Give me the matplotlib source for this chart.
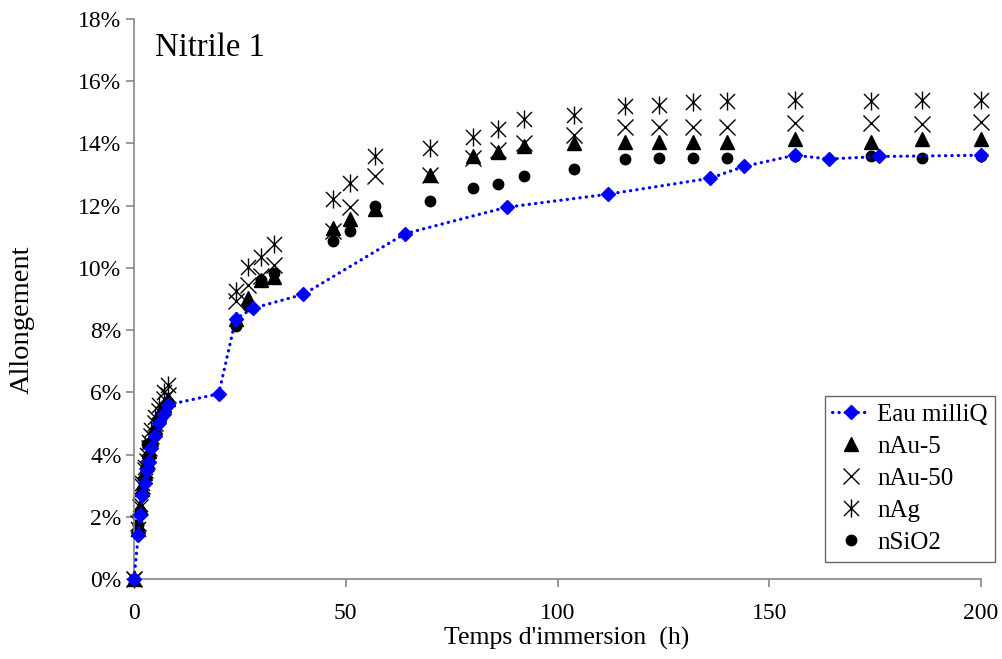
import numpy as np
import matplotlib.pyplot as plt
from matplotlib.path import Path
from matplotlib.ticker import FuncFormatter

plt.rcParams['font.family'] = ['Liberation Serif', 'DejaVu Serif']

# Eau milliQ (reference)
t_eau = [0, 1, 1.5, 2, 2.5, 3, 3.5, 4, 5, 6, 7, 8,
         20, 24, 28, 40, 64, 88, 112, 136, 144, 156, 164, 176, 200]
eau = [0, 1.4, 2.05, 2.7, 3.1, 3.5, 3.75, 4.2, 4.6, 5.0, 5.3, 5.6,
       5.95, 8.35, 8.7, 9.15, 11.1, 11.95, 12.37, 12.88, 13.26, 13.62, 13.5, 13.58, 13.62]

# nanoparticle suspensions share the same sampling times
t_np = [0, 1, 1.5, 2, 2.5, 3, 3.5, 4, 5, 6, 7, 8,
        24, 27, 30, 33, 47, 51, 57, 70, 80, 86, 92, 104,
        116, 124, 132, 140, 156, 174, 186, 200]
nau5 = [0, 1.7, 2.3, 2.9, 3.4, 3.8, 4.1, 4.5, 4.9, 5.3, 5.6, 5.8,
        8.35, 9.03, 9.61, 9.72, 11.28, 11.57, 11.89, 12.97, 13.58, 13.72, 13.92, 14.01,
        14.06, 14.06, 14.06, 14.06, 14.14, 14.06, 14.14, 14.14]
nau50 = [0, 1.8, 2.3, 3.0, 3.5, 3.8, 4.2, 4.6, 5.0, 5.4, 5.8, 5.9,
         8.94, 9.45, 9.75, 10.1, 11.17, 11.97, 12.94, 12.99, 13.53, 13.79, 14.01, 14.28,
         14.54, 14.54, 14.54, 14.54, 14.67, 14.65, 14.62, 14.7]
nag = [0, 1.6, 2.4, 3.1, 3.6, 4.0, 4.4, 4.8, 5.2, 5.6, 6.0, 6.25,
       9.26, 10.04, 10.36, 10.77, 12.22, 12.72, 13.58, 13.85, 14.22, 14.47, 14.79, 14.92,
       15.19, 15.24, 15.32, 15.35, 15.38, 15.35, 15.4, 15.4]
nsio2 = [0, 1.75, 2.2, 2.9, 3.3, 4.35, 3.9, 4.4, 4.7, 5.1, 5.5, 5.7,
         8.13, 8.76, 9.6, 9.83, 10.87, 11.19, 11.99, 12.15, 12.56, 12.7, 12.94, 13.18,
         13.49, 13.53, 13.53, 13.53, 13.6, 13.6, 13.53, 13.6]

# six-armed star: an X crossed by a vertical bar
star = Path([(-1, -1), (1, 1), (-1, 1), (1, -1), (0, -1.2), (0, 1.2)],
            [Path.MOVETO, Path.LINETO] * 3)

fig = plt.figure(figsize=(10.03, 6.59), dpi=100)
ax = fig.add_axes([0.1336, 0.1214, 0.8445, 0.8498])

ax.plot(t_eau, eau, color='#0000FF', ls=(0, (0.1, 1.9)), lw=2.3, dash_capstyle='round',
        marker='D', ms=7.5, mec='#0000FF', mfc='#0000FF', label='Eau milliQ', clip_on=False, zorder=3)
ax.plot(t_np, nau5, ls='none', marker='^', ms=9.5, color='black', label='nAu-5', clip_on=False)
ax.plot(t_np, nau50, ls='none', marker='x', ms=11, mew=1.0, color='black', label='nAu-50', clip_on=False)
ax.plot(t_np, nag, ls='none', marker=star, ms=13, mew=1.0, color='black', label='nAg', clip_on=False)
ax.plot(t_np, nsio2, ls='none', marker='o', ms=7.5, color='black', label='nSiO2', clip_on=False)

ax.set_xlim(0, 200)
ax.set_ylim(0, 18)
ax.set_xticks(np.arange(0, 201, 50))
ax.set_yticks(np.arange(0, 19, 2))
ax.yaxis.set_major_formatter(FuncFormatter(lambda v, p: f"{v:.0f}%"))
for s in ['top', 'right']:
    ax.spines[s].set_visible(False)
for s in ['left', 'bottom']:
    ax.spines[s].set_color('#868686')
    ax.spines[s].set_linewidth(1.2)
ax.tick_params(colors='#868686', labelcolor='black', labelsize=17, length=6, width=1.2)
ax.tick_params(axis='y', pad=3)
ax.tick_params(axis='x', pad=11)

ax.set_xlabel("Temps d'immersion  (h)", fontsize=18.5)
ax.xaxis.set_label_coords(0.511, -0.086)
ax.set_ylabel("Allongement", fontsize=20.5)
ax.yaxis.set_label_coords(-0.117, 0.4625)
ax.text(0.025, 0.975, "Nitrile 1", transform=ax.transAxes, fontsize=23.5, va='top', ha='left')

leg = ax.legend(loc='lower right', bbox_to_anchor=(1.0165, 0.031), fontsize=18, frameon=True,
                fancybox=False, edgecolor='#404040', handlelength=1.5, borderpad=0.3,
                labelspacing=0.38, handletextpad=0.3, borderaxespad=0)
leg.get_frame().set_linewidth(1.0)

fig.savefig("out.png", dpi=100)
